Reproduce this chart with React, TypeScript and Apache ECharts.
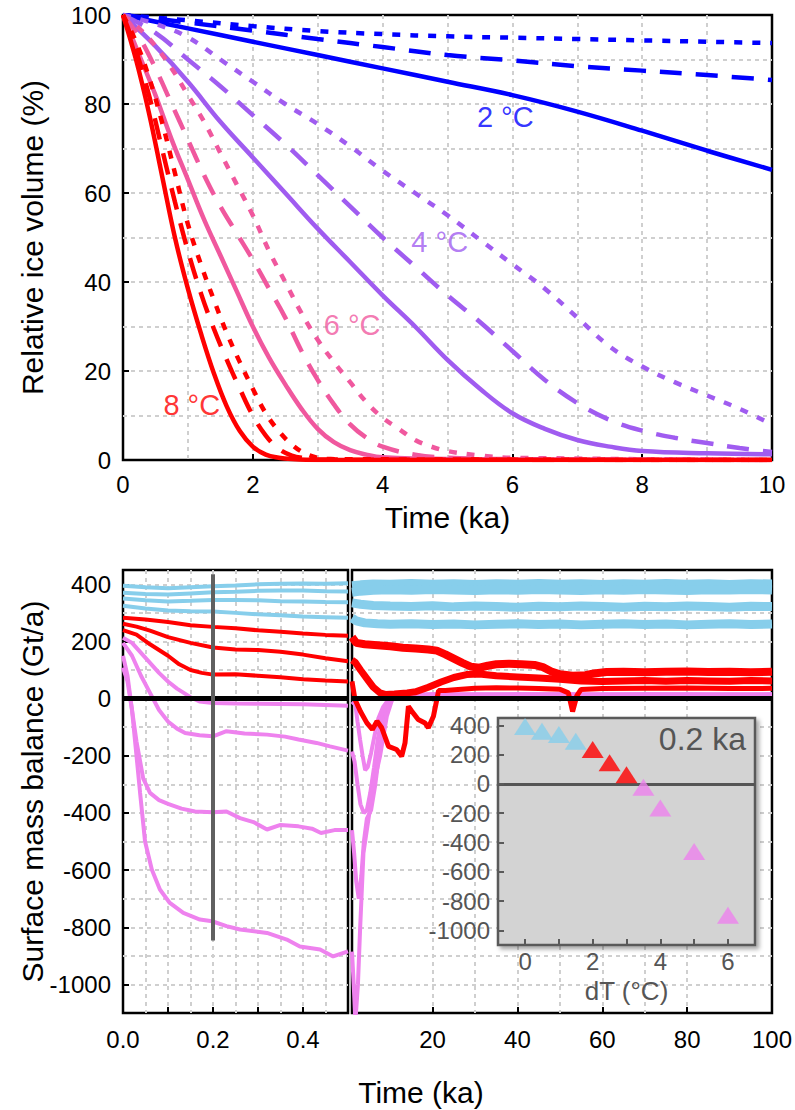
import React, { useEffect, useRef } from 'react';
import * as echarts from 'echarts';

const FONT = '"Liberation Sans", Arial, Helvetica, sans-serif';

// ---------- Top panel: relative ice volume (%) ----------
const blueSolid = [[0,100],[1,97],[2,94],[3,91],[4,88],[5,85],[6,82],[7,78.3],[8,74],[9,69.5],[10,65.2]];
const blueDashed = [[0,100],[1,98.3],[2,96.5],[3,94.6],[4,92.8],[5,91],[6,89.8],[7,88.5],[8,87.5],[9,86.5],[10,85.4]];
const blueDotted = [[0,100],[1,98.8],[2,97.5],[3,96.4],[4,95.7],[5,95.2],[6,94.9],[7,94.6],[8,94.3],[9,94],[10,93.7]];

const purpleSolid = [[0,100],[0.5,93],[1,85],[1.5,76],[2,68],[2.5,60],[3,52],[3.5,44.5],[4,37],[4.5,30],[5,22.5],[5.5,16],[6,10.5],[6.5,7],[7,4.5],[7.5,3],[8,2],[9,1.5],[10,1.3]];
const purpleDashed = [[0,100],[0.5,96],[1,90],[1.5,84],[2,77.5],[2.5,71],[3,64],[3.5,57],[4,50],[4.5,43.5],[5,37],[5.5,31],[6,24.5],[6.5,18],[7,12.8],[7.5,9],[8,6.6],[8.5,5],[9,3.8],[9.5,2.7],[10,1.8]];
const purpleDotted = [[0,100],[0.5,98],[1,95],[1.5,90],[2,85],[2.5,80],[3,75.5],[3.5,70.5],[4,65],[4.5,60],[5,55],[5.5,49.5],[6,44],[6.5,38.5],[7,32],[7.5,25.5],[8,21],[8.5,17.5],[9,14.5],[9.5,11.5],[10,8]];

const pinkSolid = [[0,100],[0.25,91],[0.5,82],[0.75,72],[1,63],[1.25,54],[1.5,46],[1.75,38],[2,30],[2.25,23],[2.5,17],[2.75,11.5],[3,7],[3.25,4],[3.5,2.2],[3.75,1.2],[4,0.6],[5,0.2],[10,0]];
const pinkDashed = [[0,100],[0.25,95],[0.5,88],[0.75,80],[1,72],[1.25,64],[1.5,57],[1.75,51],[2,45],[2.25,38.5],[2.5,32],[2.75,24.5],[3,18],[3.25,12.5],[3.5,8],[3.75,5],[4,3],[4.5,1.2],[5,0.5],[6,0.2],[10,0]];
const pinkDotted = [[0,100],[0.25,97],[0.5,93],[0.75,88],[1,82],[1.25,76],[1.5,69],[1.75,62],[2,55],[2.25,47],[2.5,40],[2.75,33],[3,27],[3.25,22],[3.5,17.5],[3.75,13],[4,9.5],[4.25,7],[4.5,4.5],[4.75,3],[5,2],[5.5,1],[6,0.5],[10,0]];

const redSolid = [[0,100],[0.2,90],[0.4,78],[0.6,64],[0.8,50],[1,38.5],[1.2,28.5],[1.4,19.5],[1.6,12],[1.8,6.5],[2,3],[2.2,1.2],[2.4,0.5],[2.6,0.2],[3,0],[10,0]];
const redDashed = [[0,100],[0.2,92],[0.4,82],[0.6,70],[0.8,58],[1,47],[1.2,37.5],[1.4,29.5],[1.6,22.5],[1.8,16],[2,10],[2.2,5.5],[2.4,2.5],[2.6,1],[2.8,0.4],[3,0.1],[10,0]];
const redDotted = [[0,100],[0.2,94],[0.4,86],[0.6,76],[0.8,64.5],[1,53],[1.2,44],[1.4,36],[1.6,28.5],[1.8,22],[2,16],[2.2,10.5],[2.4,6.5],[2.6,3.5],[2.8,1.5],[3,0.5],[3.2,0.2],[10,0]];

const tempLabels = ['2 °C', '4 °C', '6 °C', '8 °C'];
const tempLabelAt = [[5.89, 77], [4.88, 49], [3.53, 30.3], [1.06, 12.4]];

// ---------- Bottom-left panel: 0 - 0.5 ka ----------
const cyanL = [
  [[0,395],[0.05,390],[0.1,386],[0.15,390],[0.2,393],[0.25,396],[0.3,400],[0.35,402],[0.4,403],[0.45,402],[0.5,404]],
  [[0,370],[0.05,366],[0.1,364],[0.15,368],[0.2,372],[0.25,374],[0.3,377],[0.35,378],[0.4,378],[0.45,376],[0.5,375]],
  [[0,350],[0.05,344],[0.1,340],[0.15,342],[0.2,345],[0.25,345],[0.3,344],[0.35,341],[0.4,340],[0.45,338],[0.5,337]],
  [[0,325],[0.05,315],[0.1,308],[0.15,306],[0.2,305],[0.25,300],[0.3,295],[0.35,292],[0.4,287],[0.45,285],[0.5,283]],
];
const redL = [
  [[0,283],[0.05,277],[0.1,268],[0.15,257],[0.2,251],[0.25,246],[0.3,239],[0.35,234],[0.4,228],[0.45,223],[0.5,220]],
  [[0,262],[0.03,252],[0.06,238],[0.1,215],[0.15,195],[0.2,179],[0.25,172],[0.3,170],[0.35,164],[0.4,154],[0.45,141],[0.5,131]],
  [[0,240],[0.03,224],[0.06,190],[0.1,150],[0.125,120],[0.15,100],[0.175,90],[0.2,84],[0.25,85],[0.3,80],[0.35,75],[0.4,68],[0.45,63],[0.5,60]],
];
const pinkL = [
  [[0,213],[0.02,195],[0.04,160],[0.06,125],[0.08,90],[0.1,60],[0.12,35],[0.135,20],[0.15,5],[0.17,-10],[0.2,-15],[0.25,-17],[0.3,-18],[0.35,-19],[0.4,-20],[0.45,-22],[0.5,-25]],
  [[0,195],[0.02,150],[0.04,80],[0.06,20],[0.08,-40],[0.1,-80],[0.12,-105],[0.138,-120],[0.17,-128],[0.2,-132],[0.23,-114],[0.27,-122],[0.32,-126],[0.36,-133],[0.39,-143],[0.43,-155],[0.46,-167],[0.5,-182]],
  [[0,150],[0.01,80],[0.02,-40],[0.03,-150],[0.045,-280],[0.06,-330],[0.08,-355],[0.1,-368],[0.13,-385],[0.16,-395],[0.2,-398],[0.23,-395],[0.26,-418],[0.29,-432],[0.32,-458],[0.35,-442],[0.39,-447],[0.42,-455],[0.44,-470],[0.47,-460],[0.5,-460]],
  [[0,108],[0.01,60],[0.02,-40],[0.03,-200],[0.038,-330],[0.049,-500],[0.064,-598],[0.082,-668],[0.104,-715],[0.134,-750],[0.171,-773],[0.198,-779],[0.23,-796],[0.26,-808],[0.32,-820],[0.364,-843],[0.393,-867],[0.438,-878],[0.467,-902],[0.5,-884]],
];
const markerLine = [[0.2, 435], [0.2, -846]];

// ---------- Bottom-right panel: 1 - 100 ka ----------
const cyanR = [
  [[1,395],[3,398],[6,401],[10,400],[15,403],[20,400],[25,402],[30,399],[35,402],[40,400],[45,403],[50,400],[55,402],[60,399],[65,402],[70,400],[75,403],[80,400],[85,402],[90,399],[95,402],[100,401]],
  [[1,372],[3,376],[6,379],[10,381],[15,379],[20,382],[25,380],[30,378],[35,381],[40,379],[45,382],[50,380],[55,378],[60,381],[65,379],[70,382],[75,380],[80,378],[85,381],[90,380],[95,382],[100,380]],
  [[1,335],[3,330],[6,326],[10,324],[15,322],[20,325],[25,321],[30,324],[35,322],[40,320],[45,323],[50,321],[55,324],[60,322],[65,320],[70,323],[75,321],[80,324],[85,322],[90,320],[95,323],[100,322]],
  [[1,282],[2,272],[4,265],[7,262],[10,260],[15,262],[20,259],[25,261],[30,258],[35,260],[40,262],[45,259],[50,261],[55,258],[60,260],[65,262],[70,259],[75,261],[80,258],[85,260],[90,262],[95,259],[100,261]],
];
const redR = [
  [[1,215],[2,195],[4,190],[7,187],[10,183],[13,178],[16,175],[19,172],[21,168],[23,155],[25,140],[27,125],[29,112],[31,108],[33,115],[35,120],[38,122],[41,120],[44,118],[46,110],[48,95],[50,85],[53,80],[56,82],[58,88],[61,93],[65,94],[70,92],[75,94],[80,95],[85,93],[90,94],[95,92],[100,94]],
  [[1,135],[1.7,128],[3,100],[4.5,70],[6,40],[7.6,20],[9,14],[11,16],[14,20],[16,24],[19,40],[22,58],[25,74],[28,84],[31,86],[35,80],[40,76],[45,72],[50,68],[55,62],[60,60],[65,62],[70,63],[75,61],[80,63],[85,62],[90,61],[95,63],[100,62]],
  [[1,60],[1.7,-3],[3,-45],[4.5,-85],[5.8,-108],[6.9,-79],[8,-102],[9.6,-167],[11.5,-178],[12.7,-202],[13.5,-155],[14.3,-27],[15.1,-44],[16.6,-73],[18.2,-85],[19,-102],[20.2,-62],[21,-3],[21.4,28],[23,28],[26,32],[30,36],[35,38],[40,37],[45,35],[50,33],[52,20],[53,-45],[54,10],[55,32],[60,35],[70,36],[80,37],[90,35],[100,36]],
];
const pinkR = [
  [[1,-20],[1.7,-10],[2.3,-80],[2.9,-143],[3.5,-200],[4.1,-250],[4.7,-240],[5.5,-190],[6.3,-130],[7.2,-70],[8.3,-30],[9.5,-5],[11,8],[13,12],[20,14],[30,13],[40,15],[50,14],[60,13],[70,15],[80,14],[90,13],[100,15]],
  [[1,-185],[1.6,-220],[2.3,-300],[3,-370],[3.8,-400],[4.5,-390],[5.3,-330],[6.2,-240],[7.1,-140],[8,-70],[9,-25],[10.5,0],[12,10],[20,13],[30,15],[40,14],[50,13],[60,15],[70,14],[80,13],[90,15],[100,14]],
  [[1,-460],[1.5,-540],[2,-640],[2.6,-700],[3.2,-620],[3.8,-500],[4.5,-420],[5.5,-390],[6.5,-300],[7.5,-180],[8.5,-80],[9.5,-20],[11,5],[13,11],[20,14],[30,13],[40,15],[50,14],[60,13],[70,15],[80,14],[90,13],[100,14]],
  [[1,-885],[1.4,-1000],[1.8,-1130],[2.4,-1000],[2.9,-810],[3.7,-540],[5.2,-390],[6,-307],[7.6,-202],[9.2,-62],[10.7,8],[12,12],[20,15],[30,14],[40,13],[50,15],[60,14],[70,13],[80,15],[90,14],[100,13]],
];

// ---------- Inset: SMB at 0.2 ka vs dT ----------
const insetCyan = [[0,392],[0.5,360],[1,338],[1.5,292]];
const insetRed = [[2,235],[2.5,145],[3,62]];
const insetPink = [[3.5,-22],[4,-165],[5,-462],[6,-897]];

const smbTicks = [-1000, -800, -600, -400, -200, 0, 200, 400];
const rightTicks = [20, 40, 60, 80];
const rightLabels = [20, 40, 60, 80, 100];
const rightGrid = [10, 20, 30, 40, 50, 60, 70, 80, 90];
const insetXTicks = [0, 1, 2, 3, 4, 5, 6];
const insetXLabels = [0, 2, 4, 6];

const BLUE = '#0000ff';
const PURPLE = '#a05cf0';
const PINK = '#f0589e';
const RED = '#ff0000';
const CYAN = '#87ceeb';
const VIOLET = '#ee82ee';

export default function App() {
  const ref = useRef<HTMLDivElement>(null);
  useEffect(() => {
    if (!ref.current) return;
    const chart = echarts.init(ref.current, null, { renderer: 'svg' });

    const gridLine = { show: true, showMinLine: false, showMaxLine: false, lineStyle: { color: '#cfcfcf', width: 2, type: [4, 4] } };
    const noLine = { show: false, onZero: false };
    const tick = (color = '#000') => ({ show: true, inside: true, length: 6, lineStyle: { color, width: 2 } });
    const lbl = { fontSize: 24, color: '#000', fontFamily: FONT };
    const plain = (v: number) => String(v);

    const topLine = (data: number[][], color: string, style: 'solid' | 'dashed' | 'dotted') => ({
      type: 'line', xAxisIndex: 0, yAxisIndex: 0, data, showSymbol: false, smooth: 0.4,
      lineStyle: {
        color, width: 4.5,
        type: style === 'solid' ? 'solid' : style === 'dashed' ? [22, 14] : [8, 10],
        cap: 'butt',
      },
      silent: true,
    });

    const leftLine = (data: number[][], color: string, width = 4) => ({
      type: 'line', xAxisIndex: 1, yAxisIndex: 1, data, showSymbol: false,
      lineStyle: { color, width }, silent: true,
    });
    const rightLine = (data: number[][], color: string, width = 5) => ({
      type: 'line', xAxisIndex: 2, yAxisIndex: 3, data, showSymbol: false,
      lineStyle: { color, width }, silent: true,
    });

    const series: any[] = [
      topLine(blueSolid, BLUE, 'solid'), topLine(blueDashed, BLUE, 'dashed'), topLine(blueDotted, BLUE, 'dotted'),
      topLine(purpleSolid, PURPLE, 'solid'), topLine(purpleDashed, PURPLE, 'dashed'), topLine(purpleDotted, PURPLE, 'dotted'),
      topLine(pinkSolid, PINK, 'solid'), topLine(pinkDashed, PINK, 'dashed'), topLine(pinkDotted, PINK, 'dotted'),
      topLine(redSolid, RED, 'solid'), topLine(redDashed, RED, 'dashed'), topLine(redDotted, RED, 'dotted'),
      {
        type: 'scatter', xAxisIndex: 0, yAxisIndex: 0, symbolSize: 1, silent: true,
        itemStyle: { color: 'rgba(0,0,0,0)' },
        data: tempLabels.map((t, i) => ({
          value: tempLabelAt[i], name: t,
          label: { color: [BLUE, PURPLE, PINK, RED][i] },
        })),
        label: { show: true, position: 'inside', formatter: (p: any) => p.name, fontSize: 29, fontFamily: FONT },
        z: 4,
      },
      ...cyanL.map((d) => leftLine(d, CYAN)),
      ...redL.map((d) => leftLine(d, RED)),
      ...pinkL.map((d) => leftLine(d, VIOLET)),
      {
        type: 'line', xAxisIndex: 1, yAxisIndex: 1, data: [], silent: true,
        markLine: { silent: true, symbol: 'none', label: { show: false }, z: 5,
          lineStyle: { color: '#000', width: 5, type: 'solid' }, data: [{ yAxis: 0 }] },
      },
      {
        type: 'line', xAxisIndex: 1, yAxisIndex: 1, data: markerLine, showSymbol: false, silent: true,
        lineStyle: { color: '#606060', width: 4 }, z: 6,
      },
      ...cyanR.map((d) => rightLine(d, CYAN, 9)),
      ...pinkR.map((d) => rightLine(d, VIOLET, 4)),
      rightLine(redR[0], RED, 8),
      rightLine(redR[1], RED, 7),
      rightLine(redR[2], RED, 5),
      {
        type: 'line', xAxisIndex: 2, yAxisIndex: 3, data: [], silent: true,
        markLine: { silent: true, symbol: 'none', label: { show: false }, z: 5,
          lineStyle: { color: '#000', width: 5, type: 'solid' }, data: [{ yAxis: 0 }] },
      },
      {
        type: 'scatter', xAxisIndex: 4, yAxisIndex: 4, data: insetCyan, symbol: 'triangle', symbolSize: [22, 17],
        itemStyle: { color: CYAN }, z: 12, silent: true,
        markLine: { silent: true, symbol: 'none', label: { show: false }, z: 11,
          lineStyle: { color: '#555', width: 3, type: 'solid' }, data: [{ yAxis: 0 }] },
      },
      { type: 'scatter', xAxisIndex: 4, yAxisIndex: 4, data: insetRed, symbol: 'triangle', symbolSize: [22, 17], itemStyle: { color: RED }, z: 12, silent: true },
      { type: 'scatter', xAxisIndex: 4, yAxisIndex: 4, data: insetPink, symbol: 'triangle', symbolSize: [22, 17], itemStyle: { color: VIOLET }, z: 12, silent: true },
    ];

    chart.setOption({
      animation: false,
      textStyle: { fontFamily: FONT },
      grid: [
        { left: 123, top: 15, width: 649, height: 445, show: true, borderColor: '#000', borderWidth: 2.5, backgroundColor: 'transparent' },
        { left: 123, top: 570, width: 225, height: 443, show: true, borderColor: '#000', borderWidth: 2.5, backgroundColor: 'transparent' },
        { left: 352, top: 570, width: 420, height: 443, show: true, borderColor: '#000', borderWidth: 2.5, backgroundColor: 'transparent' },
        { left: 498, top: 718, width: 257, height: 227, show: true, borderColor: '#5a5a5a', borderWidth: 2.5, backgroundColor: '#d3d3d3',
          shadowColor: 'rgba(0,0,0,0.35)', shadowBlur: 4, shadowOffsetX: 3, shadowOffsetY: 3, z: 10 },
      ],
      xAxis: [
        { type: 'value', gridIndex: 0, min: 0, max: 10, interval: 2, axisLine: noLine, axisTick: tick(),
          axisLabel: { ...lbl, margin: 12 }, splitLine: gridLine, minorTick: { show: false, splitNumber: 2 }, minorSplitLine: gridLine,
          name: 'Time (ka)', nameLocation: 'middle', nameGap: 42, nameMoveOverlap: false,
          nameTextStyle: { fontSize: 30, color: '#000', fontFamily: FONT } },
        { type: 'value', gridIndex: 1, min: 0, max: 0.5, interval: 0.1, axisLine: noLine, axisTick: tick(),
          axisLabel: { ...lbl, margin: 14, formatter: (v: number) => { const k = Math.round(v * 10); return (k % 2 === 0 && k < 5) ? v.toFixed(1) : ''; } },
          splitLine: gridLine, minorTick: { show: false, splitNumber: 2 }, minorSplitLine: gridLine },
        { type: 'value', gridIndex: 2, min: 1, max: 100, axisLine: noLine,
          axisTick: { ...tick(), customValues: rightTicks },
          axisLabel: { ...lbl, margin: 14, customValues: rightLabels, formatter: plain }, splitLine: { show: false } },
        { type: 'value', gridIndex: 2, min: 1, max: 100, position: 'top', axisLine: noLine,
          axisTick: { show: false, customValues: rightGrid }, axisLabel: { show: false }, splitLine: gridLine },
        { type: 'value', gridIndex: 3, min: -0.8, max: 6.8, axisLine: noLine, z: 11,
          axisTick: { ...tick('#5a5a5a'), customValues: insetXTicks },
          axisLabel: { fontSize: 24, color: '#555', fontFamily: FONT, margin: 4, customValues: insetXLabels, formatter: plain }, splitLine: { show: false },
          name: 'dT (°C)', nameLocation: 'middle', nameGap: 33, nameMoveOverlap: false,
          nameTextStyle: { fontSize: 26, color: '#555', fontFamily: FONT } },
      ],
      yAxis: [
        { type: 'value', gridIndex: 0, min: 0, max: 100, interval: 20, axisLine: noLine, axisTick: tick(),
          axisLabel: { ...lbl, margin: 12 }, splitLine: gridLine, minorTick: { show: false, splitNumber: 2 }, minorSplitLine: gridLine,
          name: 'Relative ice volume (%)', nameLocation: 'middle', nameGap: 76, nameMoveOverlap: false,
          nameTextStyle: { fontSize: 30, color: '#000', fontFamily: FONT } },
        { type: 'value', gridIndex: 1, min: -1100, max: 450, axisLine: noLine,
          axisTick: { ...tick(), customValues: smbTicks },
          axisLabel: { ...lbl, margin: 12, customValues: smbTicks, formatter: plain }, splitLine: { show: false },
          name: 'Surface mass balance (Gt/a)', nameLocation: 'middle', nameGap: 76, nameMoveOverlap: false,
          nameTextStyle: { fontSize: 30, color: '#000', fontFamily: FONT } },
        { type: 'value', gridIndex: 1, min: -1100, max: 450, interval: 100, position: 'right', axisLine: noLine,
          axisTick: { show: false }, axisLabel: { show: false }, splitLine: gridLine },
        { type: 'value', gridIndex: 2, min: -1100, max: 450, interval: 100, axisLine: noLine,
          axisTick: { show: false }, axisLabel: { show: false }, splitLine: gridLine },
        { type: 'value', gridIndex: 3, min: -1100, max: 450, axisLine: noLine, z: 11,
          axisTick: { ...tick('#5a5a5a'), customValues: smbTicks },
          axisLabel: { fontSize: 24, color: '#555', fontFamily: FONT, margin: 8, customValues: smbTicks, formatter: plain }, splitLine: { show: false } },
      ],
      graphic: [
        { type: 'text', x: 421, y: 1092, z: 20, silent: true,
          style: { text: 'Time (ka)', fill: '#000', fontSize: 30, fontFamily: FONT, align: 'center', verticalAlign: 'middle' } },
        { type: 'text', x: 746, y: 739, z: 20, silent: true,
          style: { text: '0.2 ka', fill: '#555', fontSize: 32, fontFamily: FONT, align: 'right', verticalAlign: 'middle' } },
      ],
      series,
    });

    return () => chart.dispose();
  }, []);

  return <div ref={ref} style={{ position: 'absolute', left: 0, top: 0, width: 795, height: 1110 }} />;
}
